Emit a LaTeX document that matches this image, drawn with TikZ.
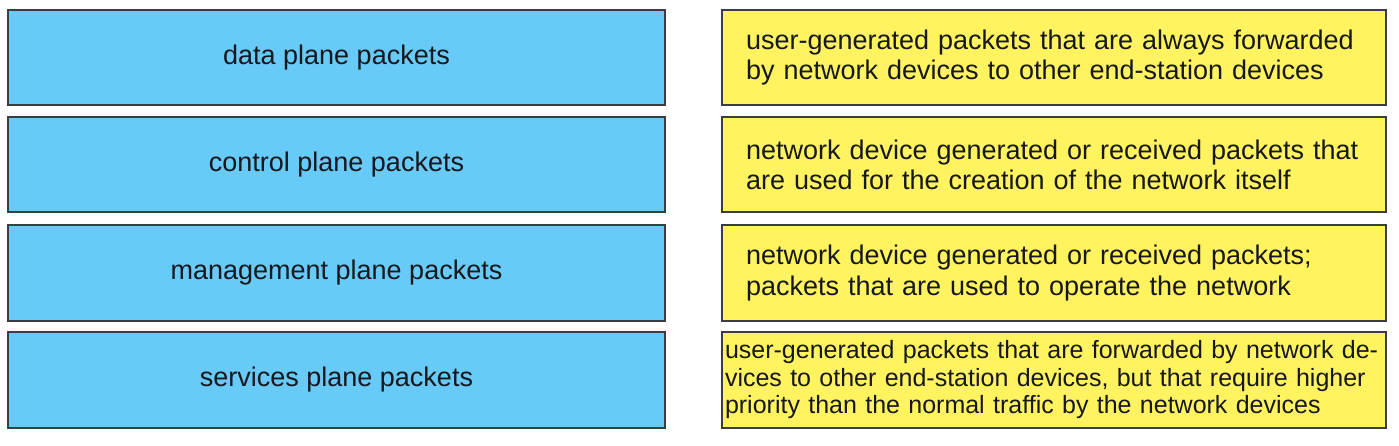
\documentclass[tikz,border=0pt]{standalone}
\usepackage{fontspec}
\setmainfont{Liberation Sans}
\usepackage{xcolor}
\usetikzlibrary{positioning}

\definecolor{planeblue}{RGB}{104,202,246}
\definecolor{descyellow}{RGB}{255,243,96}
\definecolor{boxedge}{RGB}{58,62,66}
\definecolor{inktext}{RGB}{22,24,30}

\begin{document}
\begin{tikzpicture}[x=1pt,y=-1pt,line width=2pt,
  plane/.style={rectangle,draw=boxedge,fill=planeblue,text=inktext,
    minimum width=657pt,minimum height=95pt,inner sep=0pt,
    font=\fontsize{27}{30}\selectfont},
  desc/.style={rectangle,draw=boxedge,fill=descyellow,text=inktext,
    minimum width=664pt,minimum height=95pt,align=left,
    inner xsep=24pt,text width=616pt,
    font=\fontsize{27}{30.5}\selectfont}]
\useasboundingbox (0,0) rectangle (1399,446);

\node [plane] (data) at (336.5,57.5) {data plane packets};
\node [plane] (control) at (336.5,165) {control plane packets};
\node [plane] (mgmt) at (336.5,273) {management plane packets};
\node [plane,minimum height=96pt] (services) at (336.5,380) {services plane packets};

\node [desc,right=55pt of data] (datadesc) {user-generated packets that are always forwarded\\by network devices to other end-station devices};
\node [desc,right=55pt of control] (controldesc) {network device generated or received packets that\\are used for the creation of the network itself};
\node [desc,right=55pt of mgmt] (mgmtdesc) {network device generated or received packets;\\packets that are used to operate the network};
\node [desc,right=55pt of services,minimum height=96pt,inner xsep=3pt,text width=658pt,
  font=\fontsize{25}{27.5}\selectfont] (servicesdesc) {user-generated packets that are forwarded by network de-\\vices to other end-station devices, but that require higher\\priority than the normal traffic by the network devices};
\end{tikzpicture}
\end{document}
